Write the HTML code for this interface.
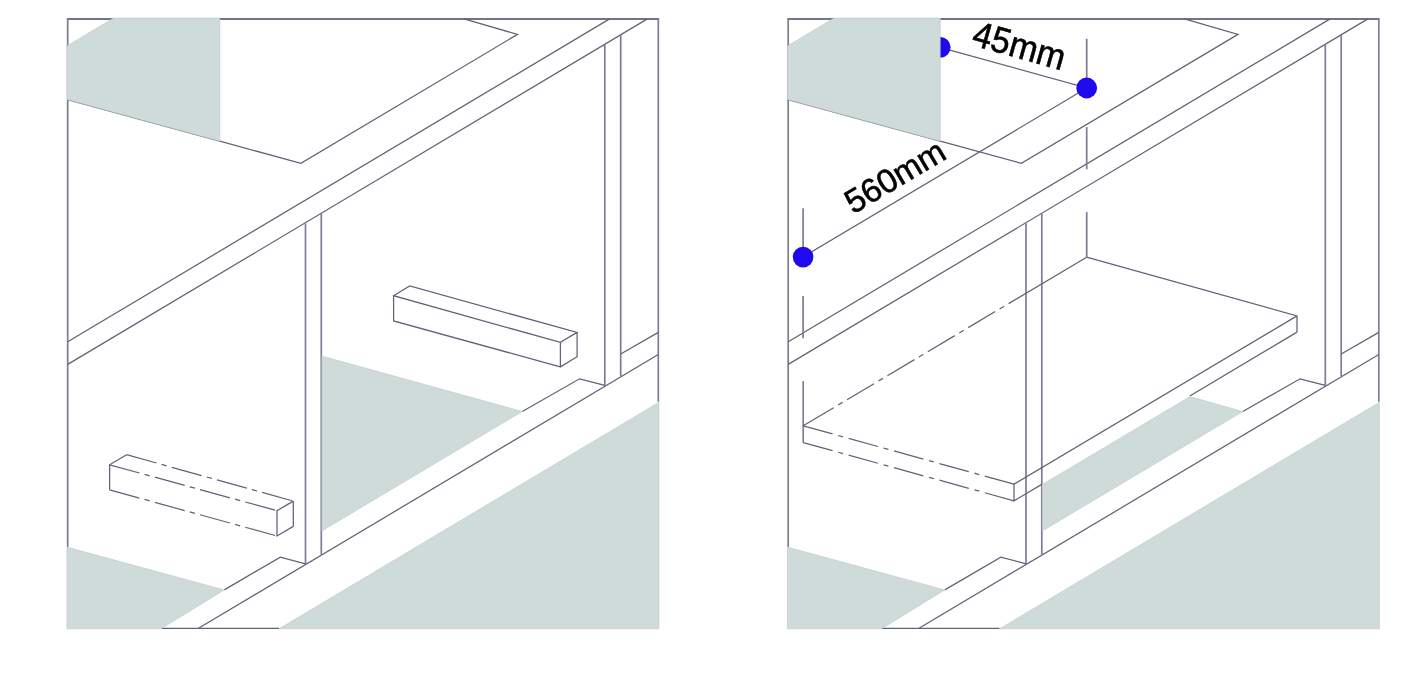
<!DOCTYPE html>
<html>
<head>
<meta charset="utf-8">
<title>Diagram</title>
<style>
html,body{margin:0;padding:0;background:#fff;}
body{width:1406px;height:691px;overflow:hidden;font-family:"Liberation Sans",sans-serif;}
svg{display:block;}
.ln{fill:none;stroke:#626277;stroke-width:1.25;}
.v{stroke:#7d7d93;stroke-width:1.7;}
.gr{fill:#cedbd9;stroke:#b7c3c3;stroke-width:0.5;stroke-linejoin:round;}
.dd{fill:none;stroke:#626277;stroke-width:1.25;stroke-dasharray:31 5.3 5.3 5.3;}
.dot{fill:#1e0aec;}
text{font-family:"Liberation Sans",sans-serif;fill:#000;stroke:#000;stroke-width:0.6;}
</style>
</head>
<body>
<svg style="opacity:0.9999;will-change:transform" width="1406" height="691" viewBox="0 0 1406 691">
<defs>
  <!-- common line work of one panel (left-panel coordinates) -->
  <g id="base">
    <!-- frame -->
    <path class="ln" style="stroke-width:2;stroke:#73738e" d="M66.9 18.9H659.1"/><path class="ln v" d="M658.3 18.9V401.8M67.7 18.9V547.1"/><path class="ln" d="M161.1 628.3H279"/>
    <!-- worktop cut-out -->
    <path class="ln" d="M67.7 99.6L219.8 141.2L300.9 163.3L517.5 34.4L464 18.9"/>
    <!-- upper rail -->
    <path class="ln" d="M67.7 341.8L609.6 18.9M67.7 364.4L647.4 18.9"/>
    <!-- posts -->
    <path class="ln v" d="M305.5 223.3V563.8M321.3 213.9V554.6M604.8 44.4V385.4M620.7 35V376"/>
    <!-- lower rail -->
    <path class="ln" d="M198.5 628.3L658.3 354.5"/>
    <path class="ln" d="M224.3 589.9L280.3 557.1L305.5 563.8"/>
    <path class="ln" d="M522.3 411.5L579.6 378.8L604.8 385.4"/>
    <path class="ln" d="M620.7 354L658.3 332.4"/>
  </g>
  <g id="greyA">
    <polygon class="gr" points="66.9,46 113.5,18 219.8,18 219.8,141.2 66.9,99.6"/>
  </g>
  <g id="greyB">
    <polygon class="gr" points="66.9,547.1 224.3,589.9 161.1,628.8 66.9,628.8"/>
    <polygon class="gr" points="279,628.8 659,402.2 659,628.8"/>
  </g>
</defs>

<!-- ================= LEFT PANEL ================= -->
<use href="#base"/>
<!-- solid batten -->
<path class="ln" d="M393.6 295.7L409.7 286L577.1 332.4L560.4 342.4ZM393.6 295.7V320.9L560.4 366.9V342.4M560.4 366.9L577.1 356.7V332.4"/>
<!-- dashed batten -->
<path class="ln" d="M109.6 489.8V464.8L126.6 454.7M293.3 501.1L277 510.7V536L293.3 526.3V501.1"/>
<path class="dd" d="M126.6 454.7L293.3 501.1M109.6 464.8L277 510.7M109.6 489.8L277 536"/>
<polygon class="gr" points="321.8,356 522.3,411.5 321.8,531"/>
<use href="#greyA"/>
<use href="#greyB"/>

<!-- ================= RIGHT PANEL ================= -->
<g transform="translate(720.5,0)">
  <use href="#base"/>
</g>
<g transform="translate(720,0)">
  <!-- shelf -->
  <path class="ln" d="M366.6 257.2L577 315.9V332.1M577 315.9L294 484.2V500.8L321.8 484.4M577 332.1L469.8 396"/>
  <path class="ln v" d="M83.2 381.1V442.6"/>
  <path class="ln" style="stroke-dasharray:30.5 5.8 5 5.8" d="M83.2 425.8L294 484.2M83.2 442.6L294 500.8"/>
  <path class="ln" style="stroke-dasharray:35.4 5.2 5.2 5.2 31.4 5.2 5.2 5.2 31.4 5.2 5.2 5.2 31.4 5.2 5.2 5.2 31.4 5.2 5.2 5.2 300" d="M83.2 425.8L366.6 257.2"/>
  <!-- extension lines -->
  <path class="ln v" d="M366.7 38.8V88M366.7 127V169.3M366.7 212V257.2"/>
  <path class="ln v" d="M83.1 208.3V257M83.1 296V338.3"/>
  <!-- dimension lines -->
  <path class="ln" d="M219.9 47.3L366.7 88L83.1 256.9"/>
  <circle class="dot" cx="220.2" cy="47.3" r="10.4"/>
  <circle class="dot" cx="366.7" cy="88" r="10.4"/>
  <circle class="dot" cx="83.1" cy="257.1" r="10.3"/>
</g>
<g transform="translate(720.5,0)">
  <polygon class="gr" points="321.8,484.4 469.5,396.6 522.3,411.5 321.8,531"/>
  <use href="#greyA"/>
  <use href="#greyB"/>
</g>
<text transform="translate(970.5,44.7) rotate(15.8) scale(1,1.07)" font-size="34">45mm</text>
<text transform="translate(853.2,214.4) rotate(-30.8)" font-size="33.2">560mm</text>
</svg>
</body>
</html>
